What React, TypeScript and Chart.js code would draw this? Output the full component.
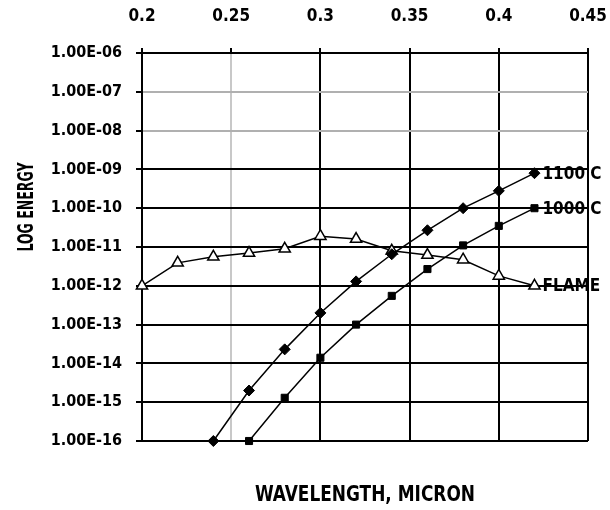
import React, { useEffect, useRef } from "react";
import { Chart, registerables } from "chart.js";

Chart.register(...registerables);

// ---- data ----
const flameX = [0.2, 0.22, 0.24, 0.26, 0.28, 0.3, 0.32, 0.34, 0.36, 0.38, 0.4, 0.42];
const flameY = [1e-12, 3.9e-12, 5.6e-12, 7e-12, 9e-12, 1.9e-11, 1.6e-11, 8e-12, 6.2e-12, 4.7e-12, 1.8e-12, 1e-12];

const c1100X = [0.24, 0.26, 0.28, 0.3, 0.32, 0.34, 0.36, 0.38, 0.4, 0.42];
const c1100Y = [1e-16, 2e-15, 2.3e-14, 2e-13, 1.3e-12, 6.5e-12, 2.7e-11, 1e-10, 2.8e-10, 8e-10];

const c1000X = [0.26, 0.28, 0.3, 0.32, 0.34, 0.36, 0.38, 0.4, 0.42];
const c1000Y = [1e-16, 1.3e-15, 1.4e-14, 1e-13, 5.5e-13, 2.7e-12, 1.1e-11, 3.5e-11, 1e-10];

const seriesNames = ["1100 C", "1000 C", "FLAME"];

const xTicks = [0.2, 0.25, 0.3, 0.35, 0.4, 0.45];
const xTickLabels = ["0.2", "0.25", "0.3", "0.35", "0.4", "0.45"];
const yTicks = [1e-16, 1e-15, 1e-14, 1e-13, 1e-12, 1e-11, 1e-10, 1e-9, 1e-8, 1e-7, 1e-6];
const yTickLabels = ["1.00E-16", "1.00E-15", "1.00E-14", "1.00E-13", "1.00E-12", "1.00E-11", "1.00E-10", "1.00E-09", "1.00E-08", "1.00E-07", "1.00E-06"];

const xTitle = "WAVELENGTH, MICRON";
const yTitle = "LOG ENERGY";

const FONT = "'DejaVu Sans Condensed', 'Liberation Sans Narrow', 'Liberation Sans', sans-serif";

const toPoints = (xs: number[], ys: number[]) => xs.map((x, i) => ({ x, y: ys[i] }));

const near = (a: number, b: number) => Math.abs(Math.log10(a) - Math.log10(b)) < 0.01;

// draws text condensed to a given width (keeps it as real text)
function drawCondensed(ctx: CanvasRenderingContext2D, text: string, width: number) {
  const w = ctx.measureText(text).width;
  const s = w > 0 ? width / w : 1;
  ctx.scale(s, 1);
  ctx.fillText(text, 0, 0);
}

const annotations = {
  id: "annotations",
  afterDatasetsDraw(chart: any) {
    const ctx = chart.ctx as CanvasRenderingContext2D;
    const area = chart.chartArea;
    ctx.save();
    ctx.font = `bold 17px ${FONT}`;
    ctx.fillStyle = "#000";
    ctx.textBaseline = "middle";
    ctx.textAlign = "left";
    chart.data.datasets.forEach((ds: any, i: number) => {
      const meta = chart.getDatasetMeta(i);
      const pt = meta.data[meta.data.length - 1];
      if (!pt) return;
      ctx.fillText(ds.label, pt.x + 8, pt.y + 1);
    });
    ctx.restore();

    // y title (rotated)
    ctx.save();
    ctx.fillStyle = "#000";
    ctx.textBaseline = "middle";
    ctx.textAlign = "center";
    ctx.font = `bold 22px ${FONT}`;
    ctx.translate(27, 207);
    ctx.rotate(-Math.PI / 2);
    drawCondensed(ctx, yTitle, 89);
    ctx.restore();

    // x title (bottom)
    ctx.save();
    ctx.fillStyle = "#000";
    ctx.textBaseline = "middle";
    ctx.textAlign = "center";
    ctx.font = `bold 21px ${FONT}`;
    ctx.translate(area.left + 223, area.bottom + 55);
    drawCondensed(ctx, xTitle, 220);
    ctx.restore();
  },
};

export default function App() {
  const ref = useRef<HTMLCanvasElement | null>(null);

  useEffect(() => {
    document.body.style.margin = "0";
    const canvas = ref.current;
    if (!canvas) return;
    const chart = new Chart(canvas, {
      type: "line",
      data: {
        datasets: [
          {
            label: seriesNames[0],
            data: toPoints(c1100X, c1100Y),
            borderColor: "#000",
            backgroundColor: "#000",
            borderWidth: 1.5,
            pointStyle: "rectRot",
            pointRadius: 5.5,
            pointBorderWidth: 1,
            pointBackgroundColor: "#000",
            pointBorderColor: "#000",
            tension: 0,
            clip: false as any,
          },
          {
            label: seriesNames[1],
            data: toPoints(c1000X, c1000Y),
            borderColor: "#000",
            backgroundColor: "#000",
            borderWidth: 1.5,
            pointStyle: "rect",
            pointRadius: 5,
            pointBorderWidth: 1,
            pointBackgroundColor: "#000",
            pointBorderColor: "#000",
            tension: 0,
            clip: false as any,
          },
          {
            label: seriesNames[2],
            data: toPoints(flameX, flameY),
            borderColor: "#000",
            backgroundColor: "#fff",
            borderWidth: 1.5,
            pointStyle: "triangle",
            pointRadius: 6.5,
            pointBorderWidth: 1.5,
            pointBackgroundColor: "#fff",
            pointBorderColor: "#000",
            tension: 0,
            clip: false as any,
          },
        ],
      },
      options: {
        responsive: false,
        animation: false,
        events: [],
        layout: { padding: { left: 0, right: 22, top: 0, bottom: 69 } },
        plugins: {
          legend: { display: false },
          tooltip: { enabled: false },
          title: { display: false },
        },
        scales: {
          x: {
            type: "linear",
            position: "top",
            min: 0.2,
            max: 0.45,
            afterBuildTicks: (scale: any) => {
              scale.ticks = xTicks.map((v) => ({ value: v }));
            },
            afterFit: (scale: any) => {
              scale.height = 53;
              scale.paddingLeft = 0;
              scale.paddingRight = 0;
            },
            ticks: {
              autoSkip: false,
              maxRotation: 0,
              color: "#000",
              padding: 21,
              font: { family: FONT, size: 17, weight: "bold" },
              callback: (v: any) => {
                const i = xTicks.findIndex((t) => Math.abs(t - v) < 1e-6);
                return i >= 0 ? xTickLabels[i] : "";
              },
            },
            grid: {
              drawTicks: true,
              tickLength: 5,
              tickColor: "#000",
              lineWidth: 2,
              color: (c: any) => (c.tick && Math.abs(c.tick.value - 0.25) < 1e-6 ? "#c8c8c8" : "#000"),
            },
            border: { display: true, color: "#000", width: 2 },
          },
          y: {
            type: "logarithmic",
            min: 1e-16,
            max: 1e-6,
            afterBuildTicks: (scale: any) => {
              scale.ticks = yTicks.map((v) => ({ value: v }));
            },
            afterFit: (scale: any) => {
              scale.width = 142;
              scale.paddingTop = 0;
              scale.paddingBottom = 0;
            },
            ticks: {
              autoSkip: false,
              color: "#000",
              padding: 14,
              font: { family: FONT, size: 16, weight: "bold" },
              callback: (v: any) => {
                const i = yTicks.findIndex((t) => near(t, v));
                return i >= 0 ? yTickLabels[i] : "";
              },
            },
            grid: {
              drawTicks: true,
              tickLength: 6,
              tickColor: "#000",
              lineWidth: 2,
              color: (c: any) =>
                c.tick && (near(c.tick.value, 1e-7) || near(c.tick.value, 1e-8)) ? "#b0b0b0" : "#000",
            },
            border: { display: true, color: "#000", width: 2 },
          },
        },
      },
      plugins: [annotations],
    } as any);
    return () => chart.destroy();
  }, []);

  return <canvas ref={ref} width={610} height={510} style={{ display: "block", width: 610, height: 510 }} />;
}
